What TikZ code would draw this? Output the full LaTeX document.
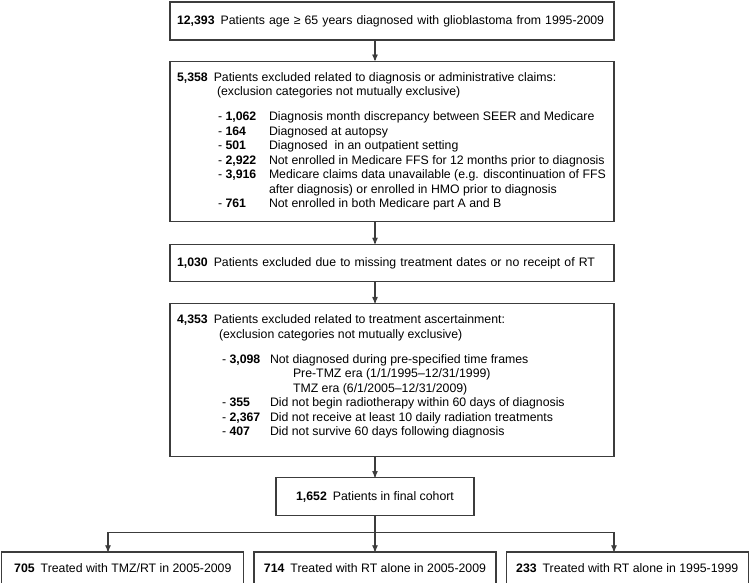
\documentclass[tikz,border=0pt]{standalone}
\usepackage{fontspec}
\setmainfont{Liberation Sans}
\usetikzlibrary{arrows,positioning}

\definecolor{linegray}{HTML}{3C3C3C}
\newcommand{\exitem}[2][51pt]{\makebox[#1][l]{-\ \textbf{#2}}}
\newcommand{\hdnum}[1]{\textbf{#1}\hspace{6pt}}

\begin{document}
\begin{tikzpicture}[>=stealth',line width=1.2pt,node distance=20pt,
                    box/.style={rectangle,draw=linegray,inner xsep=7pt,inner ysep=0pt,
                                font=\fontsize{12.3}{14.5}\selectfont},
                    wide box/.style={box,text width=430pt,align=left},
                    arm box/.style={box,minimum width=242pt,minimum height=32pt}]
  \useasboundingbox (0,0) rectangle (750pt,-583pt);
  \coordinate (spine) at (375pt,0);
  \coordinate (armL) at (108pt,0);
  \coordinate (armR) at (614pt,0);

  \node[wide box,minimum height=38pt] (total) at (392pt,-21pt)
    {\hdnum{12,393}Patients age ≥ 65 years diagnosed with glioblastoma from 1995-2009};
  \node[box,inner ysep=11pt,below=of total] (diagexcl)
    {\parbox[c][138pt][t]{430pt}{\raggedright
      \hdnum{5,358}Patients excluded related to diagnosis or administrative claims:\\
      \hspace*{40pt}(exclusion categories not mutually exclusive)\\[10.5pt]
      \hspace*{41pt}\exitem{1,062}Diagnosis month discrepancy between SEER and Medicare\\
      \hspace*{41pt}\exitem{164}Diagnosed at autopsy\\
      \hspace*{41pt}\exitem{501}Diagnosed\ \ in an outpatient setting\\
      \hspace*{41pt}\exitem{2,922}Not enrolled in Medicare FFS for 12 months prior to diagnosis\\
      \hspace*{41pt}\exitem{3,916}Medicare claims data unavailable (e.g. discontinuation of FFS\\
      \hspace*{92pt}after diagnosis) or enrolled in HMO prior to diagnosis\\
      \hspace*{41pt}\exitem{761}Not enrolled in both Medicare part A and B}};
  \node[wide box,minimum height=37pt,below=22pt of diagexcl] (missing)
    {\hdnum{1,030}Patients excluded due to missing treatment dates or no receipt of RT};
  \node[box,inner ysep=11pt,below=21pt of missing] (ascert)
    {\parbox[c][131pt][t]{430pt}{\raggedright
      \hdnum{4,353}Patients excluded related to treatment ascertainment:\\
      \hspace*{42pt}(exclusion categories not mutually exclusive)\\[10.5pt]
      \hspace*{45pt}\exitem[48pt]{3,098}Not diagnosed during pre-specified time frames\\
      \hspace*{116pt}Pre-TMZ era (1/1/1995–12/31/1999)\\
      \hspace*{116pt}TMZ era (6/1/2005–12/31/2009)\\
      \hspace*{45pt}\exitem[48pt]{355}Did not begin radiotherapy within 60 days of diagnosis\\
      \hspace*{45pt}\exitem[48pt]{2,367}Did not receive at least 10 daily radiation treatments\\
      \hspace*{45pt}\exitem[48pt]{407}Did not survive 60 days following diagnosis}};
  \coordinate (c5) at (ascert.south -| spine);
  \node[box,minimum width=198pt,minimum height=38pt,below=of c5] (cohort)
    {\hdnum{1,652}Patients in final cohort};

  \node[arm box,below=35pt of cohort] (rtlate)
    {\hdnum{714}Treated with RT alone in 2005-2009};
  \node[arm box,left=9pt of rtlate] (tmzrt)
    {\hdnum{705}Treated with TMZ/RT in 2005-2009};
  \node[arm box,right=9pt of rtlate] (rtearly)
    {\hdnum{233}Treated with RT alone in 1995-1999};
  \coordinate[below=16pt of cohort] (split);

  \begin{scope}[draw=linegray]
    \draw[->] (total.south -| spine) -- (diagexcl.north -| spine);
    \draw[->] (diagexcl.south -| spine) -- (missing.north -| spine);
    \draw[->] (missing.south -| spine) -- (ascert.north -| spine);
    \draw[->] (ascert.south -| spine) -- (cohort.north -| spine);
    \draw[->] (cohort.south -| spine) -- (rtlate.north -| spine);
    \draw (split -| armL) -- (split -| armR);
    \draw[->] (split -| armL) -- (tmzrt.north -| armL);
    \draw[->] (split -| armR) -- (rtearly.north -| armR);
  \end{scope}
\end{tikzpicture}
\end{document}
